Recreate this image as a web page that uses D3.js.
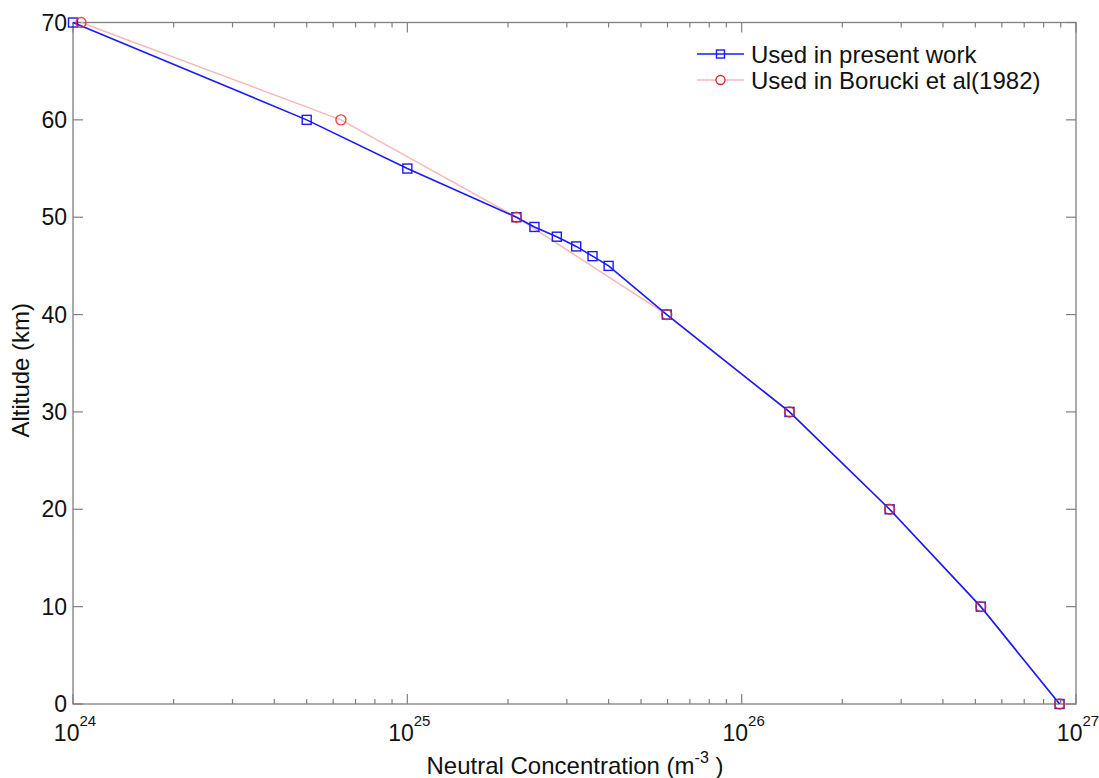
<!DOCTYPE html>
<html>
<head>
<meta charset="utf-8">
<script src="https://cdn.jsdelivr.net/npm/d3@7"></script>
<style>
  body { margin: 0; background: #fff; }
  svg { display: block; }
  text { font-family: "Liberation Sans", Arial, sans-serif; fill: #111; }
</style>
</head>
<body>
<svg id="chart" width="1099" height="778"></svg>
<script>
// ---- Data ----
const presentAltitude = [70, 60, 55, 50, 49, 48, 47, 46, 45, 40, 30, 20, 10, 0];
const presentConc = [1.0e24, 5.0e24, 1.0e25, 2.12e25, 2.4e25, 2.8e25, 3.2e25, 3.58e25, 4.0e25, 5.97e25, 1.39e26, 2.77e26, 5.19e26, 8.93e26];
const boruckiAltitude = [70, 60, 50, 40, 30, 20, 10, 0];
const boruckiConc = [1.057e24, 6.33e24, 2.12e25, 5.97e25, 1.39e26, 2.77e26, 5.19e26, 8.93e26];
const xTickExponents = [24, 25, 26, 27];
const yTicks = [0, 10, 20, 30, 40, 50, 60, 70];
const seriesNames = ["Used in present work", "Used in Borucki et al(1982)"];

// ---- Layout ----
const svg = d3.select("#chart");
const L = 73, R = 1076, T = 22.5, B = 704;
const x = d3.scaleLog().domain([1e24, 1e27]).range([L, R]);
const y = d3.scaleLinear().domain([0, 70]).range([B, T]);
const axisColor = "#7f7f7f";

// frame
svg.append("rect").attr("x", L).attr("y", T).attr("width", R - L).attr("height", B - T)
  .attr("fill", "none").attr("stroke", axisColor).attr("stroke-width", 1.3);

// x ticks (major + minor) on bottom and top, inward
const minorVals = [];
for (let e = 24; e < 27; e++) for (let m = 2; m <= 9; m++) minorVals.push(m * Math.pow(10, e));
const majorVals = xTickExponents.map(e => Math.pow(10, e));
const tg = svg.append("g").attr("stroke", axisColor).attr("stroke-width", 1.2);
minorVals.forEach(v => {
  tg.append("line").attr("x1", x(v)).attr("x2", x(v)).attr("y1", B).attr("y2", B - 5);
  tg.append("line").attr("x1", x(v)).attr("x2", x(v)).attr("y1", T).attr("y2", T + 5);
});
majorVals.forEach(v => {
  tg.append("line").attr("x1", x(v)).attr("x2", x(v)).attr("y1", B).attr("y2", B - 10);
  tg.append("line").attr("x1", x(v)).attr("x2", x(v)).attr("y1", T).attr("y2", T + 10);
});
yTicks.forEach(v => {
  tg.append("line").attr("x1", L).attr("x2", L + 10).attr("y1", y(v)).attr("y2", y(v));
  tg.append("line").attr("x1", R).attr("x2", R - 10).attr("y1", y(v)).attr("y2", y(v));
});

// x tick labels
xTickExponents.forEach(e => {
  const t = svg.append("text").attr("x", x(Math.pow(10, e)) + 2).attr("y", 741)
    .attr("text-anchor", "middle").attr("font-size", 23);
  t.append("tspan").text("10");
  t.append("tspan").attr("dy", -15).attr("font-size", 15).text(String(e));
});
// y tick labels
yTicks.forEach(v => {
  svg.append("text").attr("x", L - 6).attr("y", y(v) + 8).attr("text-anchor", "end")
    .attr("font-size", 23).text(v);
});

// axis titles
const xt = svg.append("text").attr("x", 575).attr("y", 774).attr("text-anchor", "middle").attr("font-size", 24);
xt.append("tspan").text("Neutral Concentration (m");
xt.append("tspan").attr("dy", -11).attr("font-size", 16).text("-3");
xt.append("tspan").attr("dy", 11).text(" )");
svg.append("text").attr("transform", `translate(29,${(T + B) / 2 + 7}) rotate(-90)`)
  .attr("text-anchor", "middle").attr("font-size", 24).text("Altitude (km)");

// lines
const line = d3.line().x(d => x(d[0])).y(d => y(d[1]));
const present = presentConc.map((c, i) => [c, presentAltitude[i]]);
const borucki = boruckiConc.map((c, i) => [c, boruckiAltitude[i]]);
const blue = "#1a1aff", pinkLine = "#f7b8b8", red = "#e8282e";

svg.append("path").datum(borucki).attr("d", line).attr("fill", "none")
  .attr("stroke", pinkLine).attr("stroke-width", 1.5);
svg.append("path").datum(present).attr("d", line).attr("fill", "none")
  .attr("stroke", blue).attr("stroke-width", 1.6);

svg.append("g").selectAll("rect").data(present).join("rect")
  .attr("x", d => x(d[0]) - 4.5).attr("y", d => y(d[1]) - 4.5)
  .attr("width", 9).attr("height", 9).attr("fill", "none")
  .attr("stroke", blue).attr("stroke-width", 1.4);
svg.append("g").selectAll("circle").data(borucki).join("circle")
  .attr("cx", d => x(d[0])).attr("cy", d => y(d[1])).attr("r", 5)
  .attr("fill", "none").attr("stroke", red).attr("stroke-width", 1.4)
  .attr("stroke-opacity", 0.85);

// legend
const lx1 = 697, lx2 = 744, ly = [54, 80];
svg.append("line").attr("x1", lx1).attr("x2", lx2).attr("y1", ly[0]).attr("y2", ly[0])
  .attr("stroke", blue).attr("stroke-width", 1.6);
svg.append("rect").attr("x", (lx1 + lx2) / 2 - 4).attr("y", ly[0] - 4).attr("width", 8).attr("height", 8)
  .attr("fill", "none").attr("stroke", blue).attr("stroke-width", 1.4);
svg.append("line").attr("x1", lx1).attr("x2", lx2).attr("y1", ly[1]).attr("y2", ly[1])
  .attr("stroke", pinkLine).attr("stroke-width", 1.5);
svg.append("circle").attr("cx", (lx1 + lx2) / 2).attr("cy", ly[1]).attr("r", 4.5)
  .attr("fill", "#fff").attr("stroke", red).attr("stroke-width", 1.4);
seriesNames.forEach((n, i) => {
  svg.append("text").attr("x", 751).attr("y", ly[i] + 8.5).attr("font-size", 24).text(n);
});
</script>
</body>
</html>
